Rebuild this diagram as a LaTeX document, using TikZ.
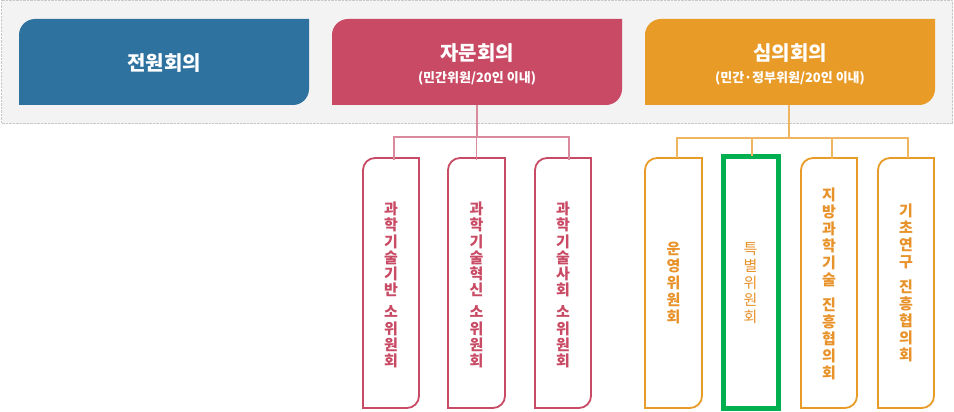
\documentclass[tikz,border=0pt]{standalone}
\usepackage{fontspec}
\setmainfont{Noto Sans CJK KR}
\definecolor{blueC}{HTML}{2E72A0}
\definecolor{pinkC}{HTML}{C94A64}
\definecolor{orangeC}{HTML}{E99B27}
\definecolor{pinkL}{HTML}{D98A9D}
\definecolor{orangeL}{HTML}{F0B560}
\definecolor{orangeT}{HTML}{E8922A}
\definecolor{greenC}{HTML}{00B050}
\definecolor{panelC}{HTML}{F3F3F3}
\definecolor{panelB}{HTML}{C8C8C8}
\begin{document}
\begin{tikzpicture}[x=1pt,y=-1pt,
  tlbr/.style n args={5}{insert path={(#1,#4) -- (#1,#2+#5) .. controls (#1,#2+0.45*#5) and (#1+0.45*#5,#2) .. (#1+#5,#2) -- (#3,#2) -- (#3,#4-#5) .. controls (#3,#4-0.45*#5) and (#3-0.45*#5,#4) .. (#3-#5,#4) -- cycle}},
  bigbox/.style={inner sep=0pt, minimum width=290pt, minimum height=86pt},
  title/.style={text=white, font=\bfseries\fontsize{20}{22}\selectfont, inner sep=0pt},
  subtitle/.style={text=white, font=\bfseries\fontsize{13}{15}\selectfont, inner sep=0pt},
  vtext/.style={align=center, inner sep=0pt, minimum width=56pt, minimum height=250pt, font=\bfseries\fontsize{15}{17}\selectfont},
  pvtext/.style={vtext, text=pinkC, font=\bfseries\fontsize{15}{16.2}\selectfont},
  pinkframe/.style={draw=pinkC, line width=1.8pt, fill=white},
  orangeframe/.style={draw=orangeC, line width=1.8pt, fill=white},
  pinkline/.style={draw=pinkL, line width=1.2pt},
  orangeline/.style={draw=orangeL, line width=1.2pt}
]
\useasboundingbox (0,0) rectangle (954,412);
% top panel
\draw[draw=panelB, densely dotted, fill=panelC] (1.5,0.5) rectangle (952.5,123.5);

% top boxes
\fill[blueC, tlbr={19}{19}{309}{105}{16}];
\fill[pinkC, tlbr={332}{19}{622}{105}{16}];
\fill[orangeC, tlbr={645}{19}{935}{105}{16}];
\node[bigbox] (blue) at (164,62) {};
\node[bigbox] (pinkb) at (477,62) {};
\node[bigbox] (orangeb) at (790,62) {};
\node[title] (bluet) at (164,63) {전원회의};
\node[title] (pinkt) at (477,53) {자문회의};
\node[subtitle] (pinks) at (477,78) {(민간위원/20인 이내)};
\node[title] (oranget) at (790,53) {심의회의};
\node[subtitle] (oranges) at (790,78) {(민간·정부위원/20인 이내)};

% pink sub boxes
\path[pinkframe, tlbr={363}{158}{419}{408}{12}];
\path[pinkframe, tlbr={448}{158}{505}{408}{12}];
\path[pinkframe, tlbr={535}{158}{591}{408}{12}];
\node[pvtext] (p1) at (391,285) {과\\학\\기\\술\\기\\반\\[6pt]소\\위\\원\\회};
\node[pvtext] (p2) at (476.5,285) {과\\학\\기\\술\\혁\\신\\[6pt]소\\위\\원\\회};
\node[pvtext] (p3) at (563,285) {과\\학\\기\\술\\사\\회\\[6pt]소\\위\\원\\회};

% orange sub boxes
\path[orangeframe, tlbr={645}{158}{702}{408}{12}];
\path[orangeframe, tlbr={801}{158}{857}{408}{12}];
\path[orangeframe, tlbr={878}{158}{934}{408}{12}];
\node[draw=greenC, line width=5pt, fill=white, inner sep=0pt, minimum width=55pt, minimum height=252pt] (o2) at (750.5,282) {};
\node[vtext, text=orangeT] (o1) at (673.5,283) {운\\영\\위\\원\\회};
\node[vtext, text=orangeT, font=\fontsize{15}{17}\selectfont] (o2t) at (750.5,283) {특\\별\\위\\원\\회};
\node[vtext, text=orangeT] (o3) at (829,284) {지\\방\\과\\학\\기\\술\\[8pt]진\\흥\\협\\의\\회};
\node[vtext, text=orangeT] (o4) at (906,283) {기\\초\\연\\구\\[8pt]진\\흥\\협\\의\\회};

% connectors
\coordinate (pbus) at (477,137);
\coordinate (obus) at (789,138);
\draw[pinkline] (pinkb.south) -- (pbus);
\draw[pinkline] ([xshift=3pt]p1.north) -- ([xshift=3pt]p1.north |- pbus) -- ([xshift=6pt]p3.north |- pbus) -- ([xshift=6pt]p3.north);
\draw[pinkline] (p2.north |- pbus) -- (p2.north);
\draw[orangeline] ([xshift=-1pt]orangeb.south) -- (obus);
\draw[orangeline] ([xshift=3.5pt]o1.north) -- ([xshift=3.5pt]o1.north |- obus) -- ([xshift=2pt]o4.north |- obus) -- ([xshift=2pt]o4.north);
\draw[orangeline] ([xshift=1.5pt]o2.north |- obus) -- ([xshift=1.5pt,yshift=-2.5pt]o2.north);
\draw[orangeline] ([xshift=3pt]o3.north |- obus) -- ([xshift=3pt]o3.north);
\end{tikzpicture}
\end{document}
